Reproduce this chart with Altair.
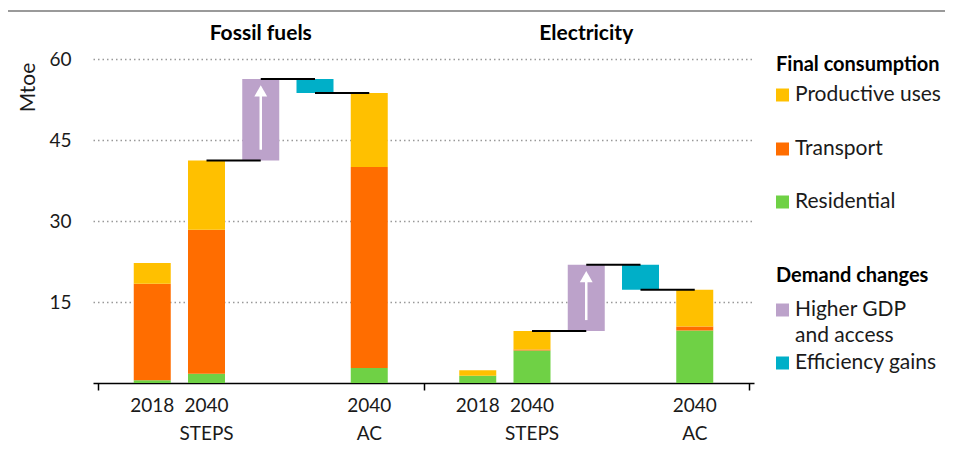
import altair as alt
import pandas as pd

# ---------------- data ----------------
panels = ["Fossil fuels", "Electricity"]
slot_names = ["2018", "2040 STEPS", "GDP", "Efficiency", "2040 AC"]
stack_cats = ["2018", "2040 STEPS", "2040 AC"]
components = ["Residential", "Transport", "Productive uses"]

fossil_residential = [0.5, 1.7, 2.8]
fossil_transport = [17.9, 26.7, 37.2]
fossil_productive = [3.8, 12.8, 13.7]

elec_residential = [1.35, 6.0, 9.7]
elec_transport = [0.0, 0.2, 0.75]
elec_productive = [1.0, 3.45, 6.8]

gdp_change = [15.1, 12.25]
efficiency_change = [-2.6, -4.65]

label_line1 = ["2018", "2040", "", "", "2040"]
label_line2 = ["", "STEPS", "", "", "AC"]

comp_colors = ["#6FD145", "#FF6D00", "#FFC000"]
change_kinds = ["Higher GDP and access", "Efficiency gains"]
change_colors = ["#BCA2CA", "#00AFC8"]

legend_labels = ["Final consumption", "Productive uses", "Transport", "Residential",
                 "Demand changes", "Higher GDP", "and access", "Efficiency gains"]
legend_bold = [True, False, False, False, True, False, False, False]
legend_swatch = ["", "#FFC000", "#FF6D00", "#6FD145", "", "#BCA2CA", "", "#00AFC8"]
legend_py = [6, 36, 90, 143, 217, 251, 277, 304]

# ---------------- build tables ----------------
PANEL_SLOTS = 6
series = [
    (fossil_residential, fossil_transport, fossil_productive),
    (elec_residential, elec_transport, elec_productive),
]

bar_rows, wf_rows, conn_rows, arrow_rows, lab_rows, title_rows = [], [], [], [], [], []
for p, comps in enumerate(series):
    slot = lambda name: p * PANEL_SLOTS + slot_names.index(name) + 1
    totals = []
    for j, cat in enumerate(stack_cats):
        base = 0.0
        for comp, vals in zip(components, comps):
            v = vals[j]
            bar_rows.append(dict(slot=slot(cat), y0=base, y1=base + v, comp=comp))
            base += v
        totals.append(base)
    steps_total = totals[1]
    gdp_top = steps_total + gdp_change[p]
    eff_bottom = gdp_top + efficiency_change[p]
    wf_rows.append(dict(slot=slot("GDP"), y0=steps_total, y1=gdp_top, kind=change_kinds[0]))
    wf_rows.append(dict(slot=slot("Efficiency"), y0=gdp_top, y1=eff_bottom, kind=change_kinds[1]))
    conn_rows.append(dict(slot=slot("2040 STEPS"), xb=slot("GDP"), y0=steps_total))
    conn_rows.append(dict(slot=slot("GDP"), xb=slot("Efficiency"), y0=gdp_top))
    conn_rows.append(dict(slot=slot("Efficiency"), xb=slot("2040 AC"), y0=eff_bottom))
    tip = gdp_top - 1.2
    arrow_rows.append(dict(slot=slot("GDP"), y0=steps_total + 2.0, y1=tip - 1.6, head=tip - 1.0))
    for i, name in enumerate(slot_names):
        lab_rows.append(dict(slot=slot(name), l1=label_line1[i], l2=label_line2[i]))
    title_rows.append(dict(slot=p * PANEL_SLOTS + 3, title=panels[p]))

bars_df = pd.DataFrame(bar_rows)
wf_df = pd.DataFrame(wf_rows)
conn_df = pd.DataFrame(conn_rows)
arrow_df = pd.DataFrame(arrow_rows)
lab_df = pd.DataFrame(lab_rows)
title_df = pd.DataFrame(title_rows)
legend_df = pd.DataFrame(dict(label=legend_labels, bold=legend_bold,
                              swatch=legend_swatch, py=legend_py))

# ---------------- scales / axes ----------------
FONT = "Lato"
TXT = "#1a1a1a"
xscale = alt.Scale(domain=[0, 2 * PANEL_SLOTS], nice=False, zero=False)
yscale = alt.Scale(domain=[0, 60], nice=False)

xaxis = alt.Axis(values=[0, 6, 12], labels=False, title=None, grid=False,
                 domainColor="black", tickColor="black", tickSize=7,
                 domainWidth=1.5, tickWidth=1.5)
yaxis = alt.Axis(values=[15, 30, 45, 60], title="Mtoe", grid=True,
                 gridDash=[1.5, 3], gridColor="#999999", gridWidth=1.5,
                 domain=False, ticks=False, labelPadding=22, labelFontSize=19,
                 labelColor=TXT, labelFont=FONT,
                 titleFontSize=21, titleFontWeight="normal", titleFont=FONT,
                 titleColor=TXT, titleAngle=270, titleX=-65, titleY=28,
                 titleBaseline="middle", titleAlign="center")

X = alt.X("slot:Q", scale=xscale, axis=xaxis)
Y = alt.Y("y0:Q", scale=yscale, axis=yaxis)
BAR_W = 37

bars = alt.Chart(bars_df).mark_bar(size=BAR_W).encode(
    x=X, y=Y, y2="y1:Q",
    color=alt.Color("comp:N", scale=alt.Scale(domain=components, range=comp_colors), legend=None),
)

wf = alt.Chart(wf_df).mark_bar(size=BAR_W).encode(
    x=X, y=Y, y2="y1:Q",
    fill=alt.Fill("kind:N", scale=alt.Scale(domain=change_kinds, range=change_colors), legend=None),
)

conns = alt.Chart(conn_df).mark_rule(color="black", strokeWidth=2).encode(
    x=X, x2="xb:Q", y=Y,
)

arrow_stem = alt.Chart(arrow_df).mark_rule(color="white", strokeWidth=2.5).encode(
    x=X, y=Y, y2="y1:Q",
)
arrow_head = alt.Chart(arrow_df).mark_point(shape="triangle-up", filled=True, color="white",
                                             size=165, opacity=1, strokeWidth=0).encode(
    x=X, y=alt.Y("head:Q", scale=yscale, axis=yaxis),
)

lab1 = alt.Chart(lab_df).mark_text(font=FONT, fontSize=19, color=TXT, baseline="middle").encode(
    x=X, y=alt.value(347), text="l1:N",
)
lab2 = alt.Chart(lab_df).mark_text(font=FONT, fontSize=19, color=TXT, baseline="middle").encode(
    x=X, y=alt.value(375), text="l2:N",
)

titles = alt.Chart(title_df).mark_text(font=FONT, fontSize=21, fontWeight="bold",
                                       color="black", baseline="middle").encode(
    x=X, y=alt.value(-25), text="title:N",
)

top_line = alt.Chart(pd.DataFrame({"a": [0]})).mark_rule(color="#9a9a9a", strokeWidth=2).encode(
    x=alt.value(-85), x2=alt.value(860), y=alt.value(-48),
)

leg_text_bold = alt.Chart(legend_df[legend_df["bold"]]).mark_text(
    font=FONT, fontSize=20, fontWeight="bold", color="black", align="left", baseline="middle"
).encode(x=alt.value(683), y=alt.Y("py:Q", scale=None), text="label:N")

leg_text = alt.Chart(legend_df[~legend_df["bold"]]).mark_text(
    font=FONT, fontSize=21, color=TXT, align="left", baseline="middle"
).encode(x=alt.value(702), y=alt.Y("py:Q", scale=None), text="label:N")

leg_sw = alt.Chart(legend_df[legend_df["swatch"] != ""]).mark_point(
    shape="square", filled=True, size=169, opacity=1, strokeWidth=0
).encode(x=alt.value(689.5), y=alt.Y("py:Q", scale=None),
         color=alt.Color("swatch:N", scale=None, legend=None))

chart = alt.layer(
    bars, wf, conns, arrow_stem, arrow_head, lab1, lab2, titles, top_line,
    leg_text_bold, leg_text, leg_sw
).resolve_scale(color="independent").properties(
    width=661, height=324,
    autosize=alt.AutoSizeParams(type="none"),
    padding={"left": 85, "top": 51, "right": 191, "bottom": 60},
).configure_view(stroke=None)

chart.save("out.html", embed_options={"renderer": "svg", "actions": False})
